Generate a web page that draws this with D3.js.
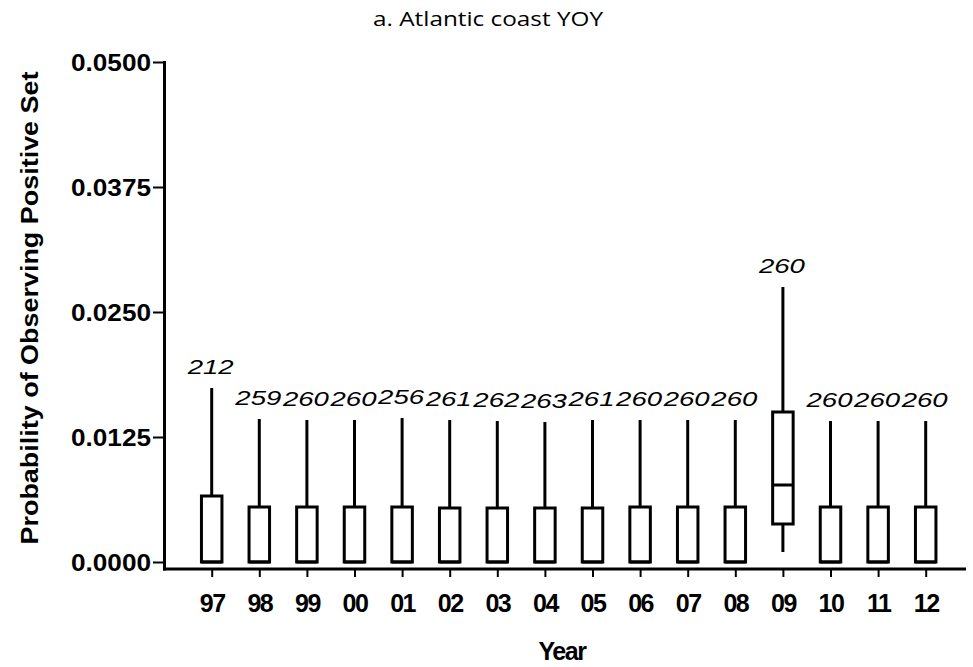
<!DOCTYPE html>
<html>
<head>
<meta charset="utf-8">
<script src="https://cdn.jsdelivr.net/npm/d3@7"></script>
<style>
  body { margin: 0; background: #fff; }
  .axis path, .axis line { stroke: #000; }
  .tlabel { font-family: "Liberation Sans", Arial, sans-serif; font-weight: bold; }
</style>
</head>
<body>
<svg width="973" height="667"></svg>
<script>
// values
var years = ['97','98','99','00','01','02','03','04','05','06','07','08','09','10','11','12'];
var counts = [212, 259, 260, 260, 256, 261, 262, 263, 261, 260, 260, 260, 260, 260, 260, 260];
var whiskLo = [0, 0, 0, 0, 0, 0, 0, 0, 0, 0, 0, 0, 0.0010, 0, 0, 0];
var q1 = [0, 0, 0, 0, 0, 0, 0, 0, 0, 0, 0, 0, 0.0038, 0, 0, 0];
var median = [0, 0, 0, 0, 0, 0, 0, 0, 0, 0, 0, 0, 0.0077, 0, 0, 0];
var q3 = [0.0066, 0.0055, 0.0055, 0.0055, 0.0055, 0.0054, 0.0054, 0.0054, 0.0054, 0.0055, 0.0055, 0.0055, 0.0150, 0.0055, 0.0055, 0.0055];
var whiskHi = [0.0174, 0.0143, 0.0142, 0.0142, 0.0144, 0.0142, 0.0141, 0.0140, 0.0142, 0.0142, 0.0142, 0.0142, 0.0275, 0.0141, 0.0141, 0.0141];
var yTicks = [0, 0.0125, 0.025, 0.0375, 0.05];

var data = years.map(function(y, i) {
    return {year: y, n: counts[i], lo: whiskLo[i], q1: q1[i], med: median[i], q3: q3[i], hi: whiskHi[i]};
});

var svg = d3.select('svg');

var xScale = d3.scalePoint().domain(years).range([211.7, 925.7]);
var yScale = d3.scaleLinear().domain([0, 0.05]).range([562, 62]);

var boxW = 20.5;

// title
svg.append('text')
    .attr('x', 488).attr('y', 26)
    .attr('text-anchor', 'middle')
    .style('font-family', '"Open Sans", sans-serif')
    .style('font-size', '20px')
    .attr('textLength', 230)
    .attr('lengthAdjust', 'spacingAndGlyphs')
    .text('a. Atlantic coast YOY');

// axes
var yAxis = svg.append('g').attr('class', 'y axis')
    .attr('transform', 'translate(164,0)')
    .call(d3.axisLeft(yScale).tickValues(yTicks).tickFormat(d3.format('.4f')).tickSize(11));
yAxis.select('.domain').remove();
yAxis.selectAll('line').attr('stroke-width', 2);
yAxis.selectAll('text')
    .attr('class', 'tlabel')
    .attr('x', -13)
    .attr('dy', '0.36em')
    .style('font-size', '24px')
    .attr('textLength', 80)
    .attr('lengthAdjust', 'spacingAndGlyphs');

var xAxis = svg.append('g').attr('class', 'x axis')
    .attr('transform', 'translate(0,569)')
    .call(d3.axisBottom(xScale).tickSize(8));
xAxis.select('.domain').remove();
xAxis.selectAll('line').attr('stroke-width', 2);
xAxis.selectAll('text')
    .attr('class', 'tlabel')
    .attr('y', 43)
    .attr('dy', 0)
    .style('font-size', '25px')
    .style('letter-spacing', '-1.5px');

svg.append('line')
    .attr('x1', 164.5).attr('x2', 164.5).attr('y1', 61).attr('y2', 570.5)
    .attr('stroke', '#000').attr('stroke-width', 3);
svg.append('line')
    .attr('x1', 163).attr('x2', 966).attr('y1', 569).attr('y2', 569)
    .attr('stroke', '#000').attr('stroke-width', 3);

// axis titles
svg.append('text')
    .attr('class', 'tlabel')
    .attr('transform', 'translate(562,660)')
    .attr('text-anchor', 'middle')
    .style('font-size', '25px')
    .style('letter-spacing', '-1.5px')
    .text('Year');

svg.append('text')
    .attr('class', 'tlabel')
    .attr('transform', 'translate(38,308) rotate(-90)')
    .attr('text-anchor', 'middle')
    .style('font-size', '24px')
    .attr('textLength', 473)
    .attr('lengthAdjust', 'spacingAndGlyphs')
    .text('Probability of Observing Positive Set');

// boxes
var holder = svg.selectAll('g.box')
    .data(data)
    .enter()
    .append('g')
    .attr('class', 'box');

holder.append('line')
    .attr('x1', function(d) { return xScale(d.year); })
    .attr('x2', function(d) { return xScale(d.year); })
    .attr('y1', function(d) { return yScale(d.hi); })
    .attr('y2', function(d) { return yScale(d.lo); })
    .attr('stroke', '#000').attr('stroke-width', 3);

holder.append('rect')
    .attr('x', function(d) { return xScale(d.year) - boxW / 2; })
    .attr('y', function(d) { return yScale(d.q3); })
    .attr('width', boxW)
    .attr('height', function(d) { return yScale(d.q1) - yScale(d.q3); })
    .attr('fill', '#fff')
    .attr('stroke', '#000').attr('stroke-width', 3);

holder.append('line')
    .attr('x1', function(d) { return xScale(d.year) - boxW / 2; })
    .attr('x2', function(d) { return xScale(d.year) + boxW / 2; })
    .attr('y1', function(d) { return yScale(d.med); })
    .attr('y2', function(d) { return yScale(d.med); })
    .attr('stroke', '#000').attr('stroke-width', 3);

holder.append('text')
    .attr('x', function(d) { return xScale(d.year) - 1; })
    .attr('y', function(d) { return yScale(d.hi) - 14; })
    .attr('text-anchor', 'middle')
    .style('font-family', '"Liberation Sans", Arial, sans-serif')
    .style('font-style', 'italic')
    .style('font-size', '20px')
    .attr('textLength', 46)
    .attr('lengthAdjust', 'spacingAndGlyphs')
    .text(function(d) { return d.n; });
</script>
</body>
</html>
